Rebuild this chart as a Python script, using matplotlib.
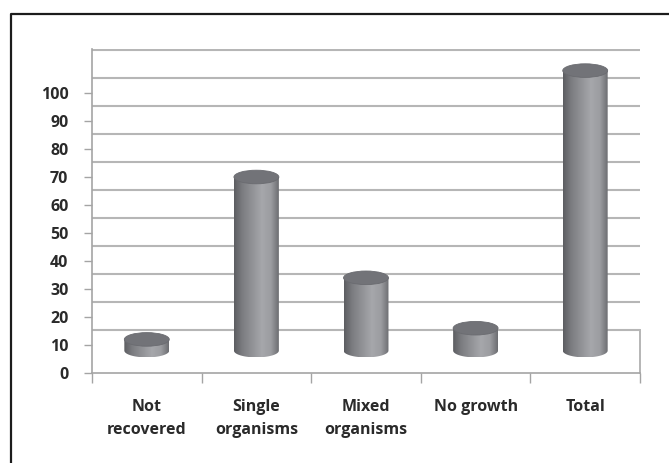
import numpy as np
import matplotlib
matplotlib.use("Agg")
import matplotlib.pyplot as plt
from matplotlib.patches import Ellipse, PathPatch
from matplotlib.path import Path
from matplotlib.lines import Line2D
from matplotlib.colors import LinearSegmentedColormap

# ---- data ----
categories = ["Not\nrecovered", "Single\norganisms", "Mixed\norganisms", "No growth", "Total"]
counts = [4, 62, 26, 8, 100]
yticks = list(range(0, 101, 10))

# ---- figure geometry ----
W, H = 669, 463
DPI = 100
fig = plt.figure(figsize=(W / DPI, H / DPI), dpi=DPI)
fig.patch.set_facecolor("white")

# plot area in pixels: x 92..640, front floor edge at 373, back wall top at 49
px_per_unit = 2.8
ax = fig.add_axes([92 / W, (H - 373) / H, (640 - 92) / W, (373 - 49) / H])
ymax = (373 - 49) / px_per_unit
ax.set_xlim(0, len(categories))
ax.set_ylim(0, ymax)
ax.set_facecolor("white")

# 3-D look: floor depth shown as a vertical offset of the back wall
depth = 15.4          # back wall offset (value units)
base = 8.0            # cylinders stand at mid-depth of the floor
grid_col = "#b6b6b6"
axis_col = "#a4a4a4"

for v in yticks:
    ax.axhline(v + depth, color=grid_col, lw=1.5, zorder=1)
# right edge of the floor
ax.plot([len(categories), len(categories)], [0, depth], color=grid_col, lw=1.4,
        zorder=1, clip_on=False)

for side in ("top", "right"):
    ax.spines[side].set_visible(False)
for side in ("left", "bottom"):
    ax.spines[side].set_color(axis_col)
    ax.spines[side].set_linewidth(1.2)

# ---- cylinders ----
half_w = 0.205                   # half width in category units
ell_h = 6.8 / px_per_unit        # half height of the ellipse in value units
shade = LinearSegmentedColormap.from_list(
    "cyl",
    [(0.0, "#5c5d61"), (0.18, "#7b7c80"), (0.62, "#a6a7ab"),
     (0.82, "#9c9da1"), (1.0, "#6c6d71")])
grad = shade(np.linspace(0, 1, 256))[None, :, :3]

for i, val in enumerate(counts):
    c = i + 0.5
    yb = base
    yt = base + val
    th = np.linspace(np.pi, 2 * np.pi, 80)
    xs = np.concatenate([[c - half_w], c + half_w * np.cos(th), [c + half_w, c - half_w]])
    ys = np.concatenate([[yt], yb + ell_h * np.sin(th), [yt, yt]])
    body = PathPatch(Path(np.column_stack([xs, ys])), facecolor="none",
                     edgecolor="none", zorder=3)
    ax.add_patch(body)
    im = ax.imshow(grad, extent=[c - half_w, c + half_w, yb - ell_h, yt],
                   aspect="auto", zorder=3, interpolation="bilinear")
    im.set_clip_path(body)
    top = Ellipse((c, yt), 2 * half_w, 2 * ell_h, facecolor="#727378",
                  edgecolor="#6a6b70", lw=0.6, zorder=4)
    ax.add_patch(top)

ax.set_xlim(0, len(categories))
ax.set_ylim(0, ymax)

# ---- ticks and labels ----
font = dict(family=["Open Sans", "DejaVu Sans"], size=11.5, weight="bold",
            color="#2a2a2a")
ax.set_yticks(yticks)
ax.set_yticklabels([str(t) for t in yticks], **font)
ax.tick_params(axis="y", length=6, width=1.0, color=axis_col, pad=11)

ax.set_xticks(range(len(categories) + 1))
ax.set_xticklabels([])
ax.tick_params(axis="x", which="major", length=7, width=1.0, color=axis_col)
ax.set_xticks([i + 0.5 for i in range(len(categories))], minor=True)
ax.set_xticklabels(categories, minor=True, linespacing=1.55, va="top", **font)
ax.tick_params(axis="x", which="minor", length=0, pad=19)

# ---- outer frame ----
fig.add_artist(Line2D([11 / W, 11 / W, 1.0], [0.0, 1 - 14 / H, 1 - 14 / H],
                      transform=fig.transFigure, color="#1c1c1c", lw=1.6))

fig.savefig("out.png", dpi=DPI, facecolor="white")
